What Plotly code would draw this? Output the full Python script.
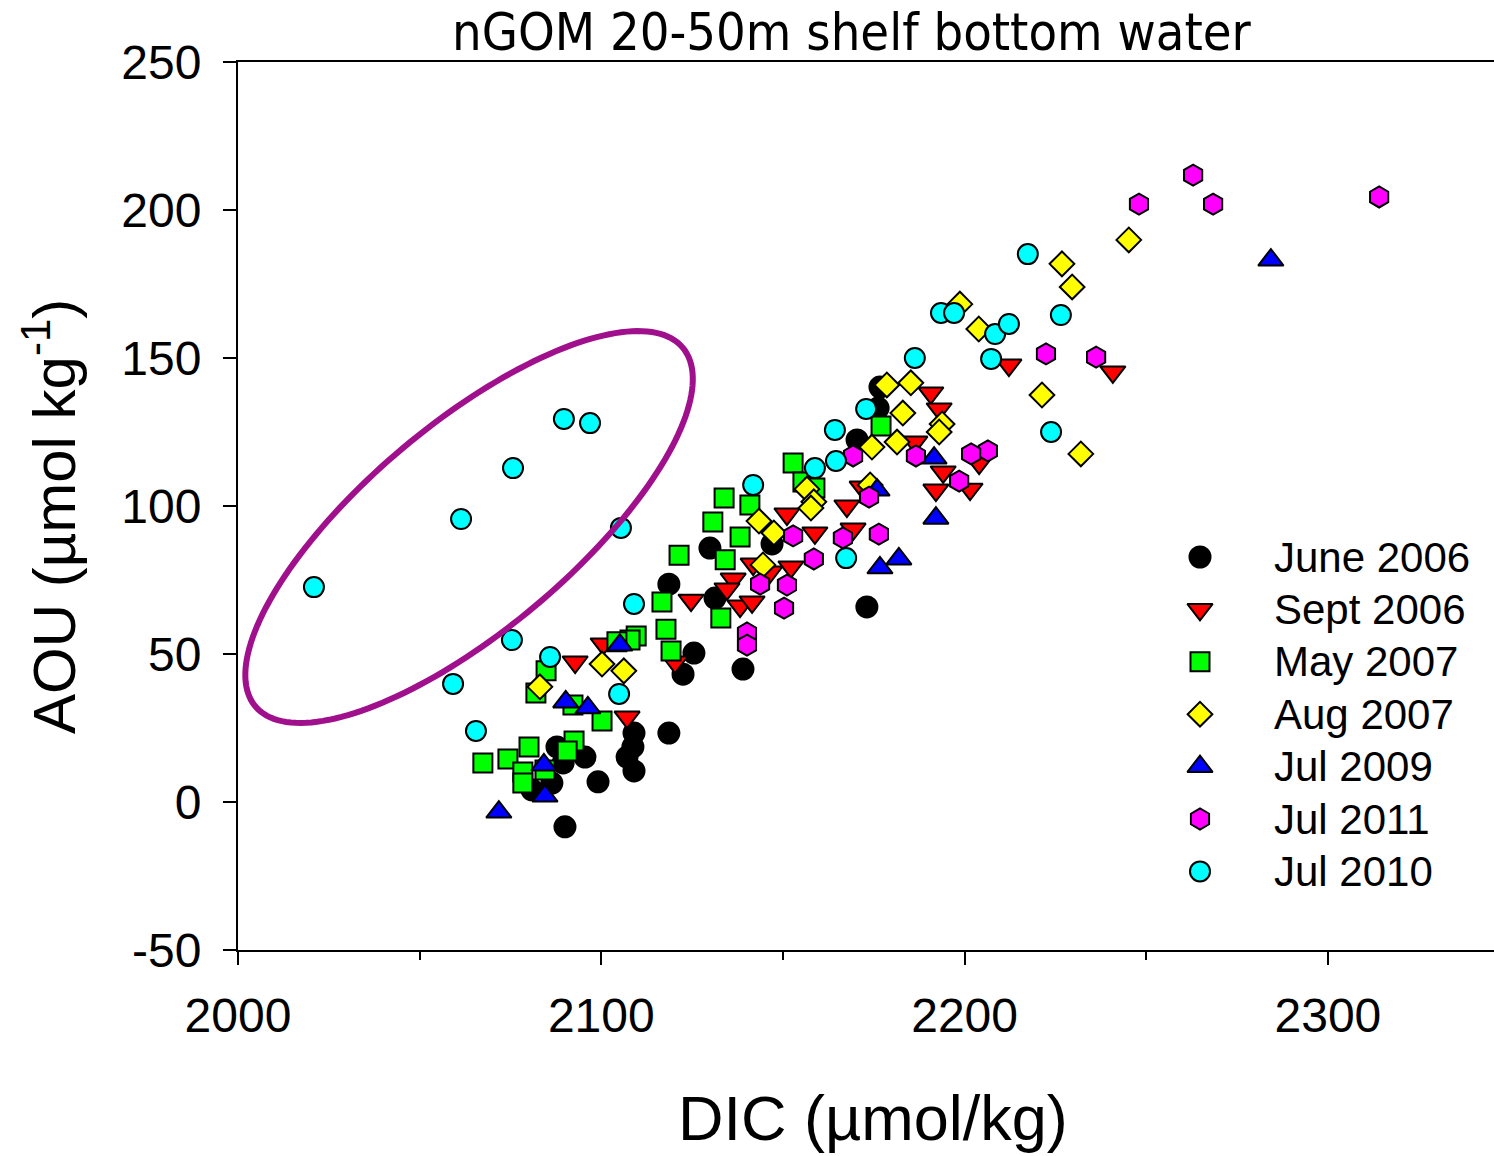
import numpy as np
import plotly.graph_objects as go

# ---------------- data ----------------
june06_x = [2176.7, 2176.2, 2170.4, 2147.0, 2129.9, 2118.6, 2131.3, 2125.5, 2122.5, 2139.0, 2173.1, 2118.6,
            2109.0, 2108.7, 2107.1, 2109.0, 2099.1, 2095.5, 2087.8, 2089.5, 2086.4, 2080.9, 2090.0]
june06_y = [140.2, 133.1, 122.3, 87.2, 85.8, 73.6, 68.9, 50.3, 43.2, 44.9, 65.9, 23.3,
            23.3, 18.6, 15.2, 10.5, 6.8, 15.2, 18.6, 13.2, 6.4, 4.1, -8.4]

sept06_x = [2212.2, 2240.8, 2190.7, 2193.0, 2186.3, 2194.1, 2192.1, 2201.5, 2204.0, 2171.8, 2167.6, 2169.3, 2158.8,
            2151.1, 2152.2, 2146.4, 2141.8, 2136.3, 2134.6, 2138.2, 2141.5, 2124.7, 2120.3, 2107.1, 2092.8, 2100.5]
sept06_y = [147.6, 145.3, 138.2, 132.8, 121.6, 111.5, 105.4, 105.7, 114.5, 106.4, 100.0, 92.2, 90.9,
            97.3, 79.4, 77.7, 80.4, 75.3, 72.0, 66.2, 67.6, 68.2, 47.3, 28.7, 47.3, 53.4]

may07_x = [2177.0, 2152.8, 2155.5, 2158.8, 2133.8, 2140.9, 2130.7, 2138.2, 2121.4, 2134.1, 2116.7, 2132.9, 2117.8,
           2119.2, 2109.6, 2107.9, 2104.3, 2084.8, 2082.0, 2092.2, 2100.2, 2092.5, 2090.6, 2080.1, 2074.3, 2067.4,
           2078.4, 2078.4, 2084.5]
may07_y = [127.0, 114.5, 108.1, 106.1, 102.7, 100.3, 94.6, 89.5, 83.4, 81.8, 67.6, 62.2, 58.4,
           51.0, 56.1, 54.7, 54.1, 44.3, 36.8, 32.8, 27.4, 20.6, 17.2, 18.6, 14.5, 13.2,
           10.1, 6.4, 10.8]

aug07_x = [2245.2, 2226.8, 2229.6, 2198.7, 2203.9, 2221.3, 2232.0, 2178.6, 2185.2, 2183.0, 2193.8, 2193.0,
           2174.5, 2181.4, 2174.0, 2156.6, 2158.5, 2157.7, 2143.4, 2147.5, 2144.5, 2100.2, 2106.2, 2083.1]
aug07_y = [189.9, 181.8, 174.0, 168.2, 159.8, 137.5, 117.6, 140.9, 141.6, 131.4, 127.7, 125.0,
           119.9, 121.6, 107.1, 105.7, 101.4, 99.3, 94.9, 90.9, 80.1, 46.6, 44.3, 38.9]

jul09_x = [2284.3, 2191.6, 2192.1, 2181.9, 2176.7, 2175.9, 2105.1, 2090.2, 2096.3, 2084.2, 2084.5, 2071.8]
jul09_y = [183.1, 116.2, 95.9, 82.1, 79.1, 105.4, 53.0, 33.8, 31.8, 12.5, 2.0, -3.4]

jul11_x = [2262.9, 2248.0, 2268.4, 2314.1, 2222.4, 2236.2, 2206.4, 2201.8, 2198.5, 2186.6, 2169.3, 2173.7,
           2166.5, 2176.4, 2152.8, 2158.5, 2143.7, 2151.1, 2150.3, 2140.1, 2140.1]
jul11_y = [211.8, 202.0, 202.0, 204.4, 151.4, 150.3, 118.6, 117.6, 108.4, 116.9, 116.9, 103.0,
           89.2, 90.5, 89.9, 82.1, 73.6, 73.3, 65.5, 57.1, 53.0]

jul10_x = [2020.9, 2061.4, 2075.7, 2089.7, 2096.9, 2105.4, 2109.0, 2075.4, 2085.9, 2059.2, 2104.9, 2065.5,
           2141.8, 2158.8, 2164.6, 2164.3, 2172.9, 2167.4, 2186.3, 2207.3, 2193.5, 2197.1, 2208.4, 2212.2,
           2217.4, 2226.5, 2223.8]
jul10_y = [72.6, 95.6, 112.8, 129.4, 128.0, 92.6, 66.9, 54.7, 49.0, 39.9, 36.5, 24.0,
           107.1, 112.8, 115.2, 125.7, 132.8, 82.4, 150.0, 149.7, 165.2, 165.2, 158.1, 161.5,
           185.1, 164.5, 125.0]

x_ticks = [2000, 2100, 2200, 2300]
y_ticks = [-50, 0, 50, 100, 150, 200, 250]

# ---------------- layout constants ----------------
W, H = 1494, 1156
ML, MR, MT, MB = 238, 0, 62, 206
PW, PH = W - ML - MR, H - MT - MB
XR = [2000, 2000 + PW / 3.633]
YR = [-50, 250]
PXX = PW / (XR[1] - XR[0])
PXY = PH / (YR[1] - YR[0])

series = [
    ("June 2006", june06_x, june06_y, "circle", "#000000", 21),
    ("Sept 2006", sept06_x, sept06_y, "triangle-down", "#FF0000", 22),
    ("May 2007", may07_x, may07_y, "square", "#00FF00", 19),
    ("Aug 2007", aug07_x, aug07_y, "diamond", "#FFFF00", 19),
    ("Jul 2009", jul09_x, jul09_y, "triangle-up", "#0000FF", 22),
    ("Jul 2011", jul11_x, jul11_y, "hexagon", "#FF00FF", 21),
    ("Jul 2010", jul10_x, jul10_y, "circle", "#00FFFF", 20),
]

font_main = "Liberation Sans, Arial, sans-serif"

fig = go.Figure()
for name, xs, ys, sym, col, sz in series:
    fig.add_trace(go.Scatter(
        x=xs, y=ys, mode="markers", name=name, showlegend=False,
        marker=dict(symbol=sym, color=col, size=sz,
                    line=dict(color="black", width=2)),
    ))

# custom legend drawn on a pixel-space overlay axis
LEG_X_SYM, LEG_X_TXT, LEG_Y0, LEG_DY = 1200, 1272, 557, 52.4
annotations = []
for i, (name, xs, ys, sym, col, sz) in enumerate(series):
    ly = LEG_Y0 + i * LEG_DY
    fig.add_trace(go.Scatter(
        x=[LEG_X_SYM], y=[ly], xaxis="x2", yaxis="y2", mode="markers", showlegend=False,
        hoverinfo="skip",
        marker=dict(symbol=sym, color=col, size=sz, line=dict(color="black", width=2)),
    ))
    annotations.append(dict(text=name, xref="x2", yref="y2", x=LEG_X_TXT, y=ly,
                            xanchor="left", yanchor="middle", showarrow=False,
                            font=dict(size=42, family=font_main)))

# highlight ellipse (annotation shape)
ecx, ecy = 2063.6, 92.9
ea, eb, eth = 279.0, 103.0, np.deg2rad(40)
t = np.linspace(0, 2 * np.pi, 181)
ex = ecx + (ea * np.cos(t) * np.cos(eth) - eb * np.sin(t) * np.sin(eth)) / PXX
ey = ecy + (ea * np.cos(t) * np.sin(eth) + eb * np.sin(t) * np.cos(eth)) / PXY
path = "M " + " L ".join(f"{a:.3f},{b:.3f}" for a, b in zip(ex, ey)) + " Z"
fig.add_shape(type="path", path=path, xref="x", yref="y",
              line=dict(color="#A0108C", width=6), layer="above")

annotations += [
    dict(text="nGOM 20-50m shelf bottom water", xref="paper", yref="paper",
         x=(852 - ML) / PW, y=1.0, xanchor="center", yanchor="bottom", yshift=-2,
         showarrow=False, font=dict(size=52, family="DejaVu Sans Condensed, DejaVu Sans, sans-serif")),
    dict(text="DIC (µmol/kg)", xref="paper", yref="paper",
         x=(873 - ML) / PW, y=(950 - 1118) / PH, xanchor="center", yanchor="middle",
         showarrow=False, font=dict(size=63, family=font_main)),
    dict(text="AOU (µmol kg<sup>-1</sup>)", xref="paper", yref="paper",
         x=(50 - ML) / PW, y=(950 - 517) / PH, xanchor="center", yanchor="middle",
         textangle=-90, showarrow=False, font=dict(size=60, family=font_main)),
]

fig.update_layout(
    width=W, height=H,
    margin=dict(l=ML, r=MR, t=MT, b=MB),
    paper_bgcolor="white", plot_bgcolor="white",
    font=dict(family=font_main, color="black"),
    showlegend=False,
    xaxis=dict(range=XR, showgrid=False, zeroline=False, showline=True, linecolor="black",
               linewidth=2, mirror=True, ticks="outside", ticklen=13, tickwidth=2, tickcolor="black",
               tickvals=x_ticks, ticktext=[str(v) for v in x_ticks], ticklabelstandoff=9,
               tickfont=dict(size=48, family=font_main),
               minor=dict(dtick=50, tick0=2000, ticks="outside", ticklen=8, tickwidth=2, tickcolor="black")),
    yaxis=dict(range=YR, showgrid=False, zeroline=False, showline=True, linecolor="black",
               linewidth=2, ticks="outside", ticklen=13, tickwidth=2, tickcolor="black",
               tickvals=y_ticks, ticktext=[str(v) for v in y_ticks], ticklabelstandoff=12,
               tickfont=dict(size=48, family=font_main)),
    xaxis2=dict(range=[ML, W], overlaying="x", anchor="y2", visible=False, fixedrange=True),
    yaxis2=dict(range=[H - MB, MT], overlaying="y", anchor="x2", visible=False, fixedrange=True),
    annotations=annotations,
)

fig.write_html("out.html")
